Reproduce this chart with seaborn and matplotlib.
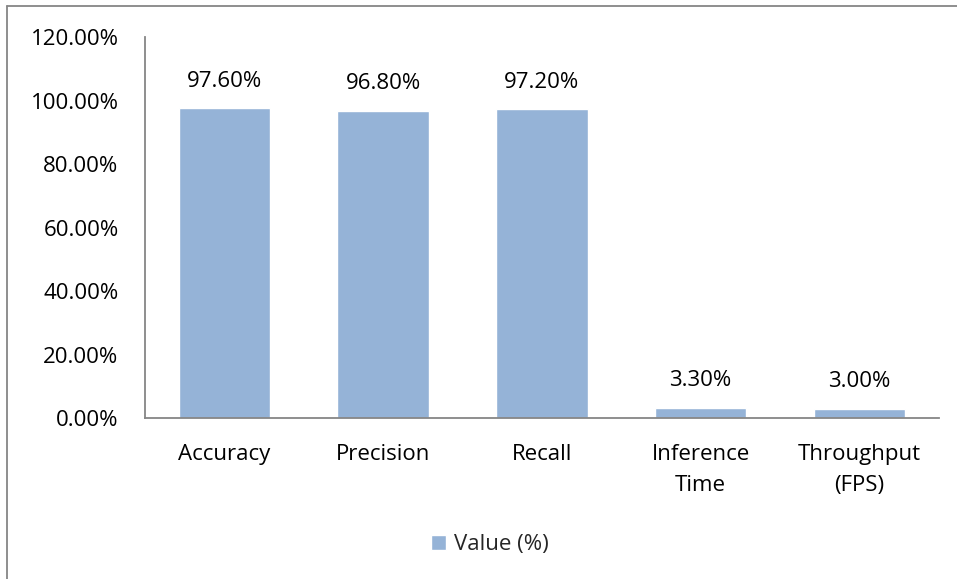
import matplotlib
matplotlib.use("Agg")
import matplotlib.pyplot as plt
import matplotlib.lines as mlines
import matplotlib.ticker as mticker
import pandas as pd
import seaborn as sns

# data
categories = ["Accuracy", "Precision", "Recall", "Inference\nTime", "Throughput\n(FPS)"]
values = [0.976, 0.968, 0.972, 0.033, 0.030]
series_name = "Value (%)"

BAR_COLOR = "#95B3D7"
AXIS_COLOR = "#868686"
TEXT_COLOR = "#000000"
FS = 16

sns.set_theme(style="white")
plt.rcParams["font.family"] = ["Open Sans", "DejaVu Sans"]

df = pd.DataFrame({"Metric": categories, "Value": values, "Series": series_name})

fig = plt.figure(figsize=(9.57, 5.79), dpi=100)
ax = fig.add_axes([0.1515, 0.278, 0.8295, 0.658])

sns.barplot(data=df, x="Metric", y="Value", hue="Series",
            palette=[BAR_COLOR], width=0.575, ax=ax, legend=True,
            saturation=1)

for container in ax.containers:
    ax.bar_label(container, labels=[f"{v:.2%}" for v in values],
                 padding=12, fontsize=FS, color=TEXT_COLOR)

ax.set_ylim(0, 1.2)
ax.set_xlim(-0.5, len(categories) - 0.5)
ax.yaxis.set_major_locator(mticker.MultipleLocator(0.2))
ax.yaxis.set_major_formatter(mticker.FuncFormatter(lambda v, _: f"{v:.2%}"))
ax.set_xlabel("")
ax.set_ylabel("")
ax.tick_params(axis="y", labelsize=FS, colors=TEXT_COLOR, length=0, pad=19)
ax.tick_params(axis="x", labelsize=FS, colors=TEXT_COLOR, length=0, pad=19)
for lbl in ax.get_xticklabels():
    lbl.set_linespacing(1.6)

for side in ["top", "right"]:
    ax.spines[side].set_visible(False)
for side in ["left", "bottom"]:
    ax.spines[side].set_color(AXIS_COLOR)
    ax.spines[side].set_linewidth(1.3)

handles, labels = ax.get_legend_handles_labels()
ax.legend(handles, labels, loc="center", bbox_to_anchor=(0.512, 0.059),
          bbox_transform=fig.transFigure, frameon=False, fontsize=FS,
          handlelength=0.65, handleheight=0.65, handletextpad=0.35)

# chart-area border (only top and left visible in the crop)
fig.add_artist(mlines.Line2D([7.5 / 957, 1], [1 - 5.5 / 579, 1 - 5.5 / 579],
                             transform=fig.transFigure, color=AXIS_COLOR, lw=1.3))
fig.add_artist(mlines.Line2D([7.5 / 957, 7.5 / 957], [0, 1 - 5.5 / 579],
                             transform=fig.transFigure, color=AXIS_COLOR, lw=1.3))

fig.savefig("out.png", dpi=100, facecolor="white")
